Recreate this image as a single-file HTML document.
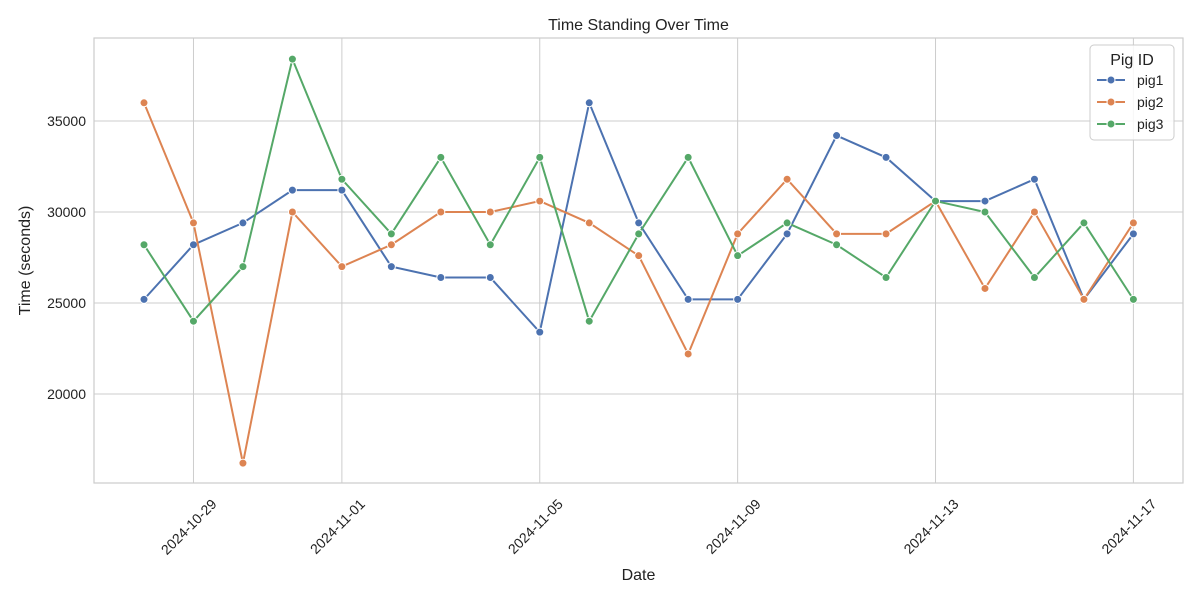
<!DOCTYPE html>
<html><head><meta charset="utf-8"><style>
body{margin:0;background:#fff;font-family:"Liberation Sans","DejaVu Sans",sans-serif;}
</style></head><body>
<svg id="chart" width="1200" height="600" xmlns="http://www.w3.org/2000/svg"></svg>
<script>
const dates = ["2024-10-28","2024-10-29","2024-10-30","2024-10-31","2024-11-01","2024-11-02","2024-11-03","2024-11-04","2024-11-05","2024-11-06","2024-11-07","2024-11-08","2024-11-09","2024-11-10","2024-11-11","2024-11-12","2024-11-13","2024-11-14","2024-11-15","2024-11-16","2024-11-17"];
const pig1 = [25200,28200,29400,31200,31200,27000,26400,26400,23400,36000,29400,25200,25200,28800,34200,33000,30600,30600,31800,25200,28800];
const pig2 = [36000,29400,16200,30000,27000,28200,30000,30000,30600,29400,27600,22200,28800,31800,28800,28800,30600,25800,30000,25200,29400];
const pig3 = [28200,24000,27000,38400,31800,28800,33000,28200,33000,24000,28800,33000,27600,29400,28200,26400,30600,30000,26400,29400,25200];
const yTicks = [20000,25000,30000,35000];
const xTickLabels = ["2024-10-29","2024-11-01","2024-11-05","2024-11-09","2024-11-13","2024-11-17"];
const seriesNames = ["pig1","pig2","pig3"];
const colors = ["#4c72b0","#dd8452","#55a868"];

const NS="http://www.w3.org/2000/svg";
const svg=document.getElementById('chart');
const L=94,R=1183,T=38,B=483;
const x0=144,pxDay=49.47;
const t0=Date.parse(dates[0]);
function xs(d){return x0+(Date.parse(d)-t0)/86400000*pxDay;}
function ys(v){return 212-(v-30000)*0.0182;}
function mk(tag,attrs,parent){const e=document.createElementNS(NS,tag);for(const k in attrs)e.setAttribute(k,attrs[k]);(parent||svg).appendChild(e);return e;}

const grid=mk('g',{});


yTicks.forEach(v=>{
  const l=mk('line',{x1:L,x2:R,y1:ys(v),y2:ys(v),stroke:'#cccccc','stroke-width':1},grid);
  
  
  const t=mk('text',{x:L-8,y:ys(v)+5,'text-anchor':'end','font-size':14,fill:'#222'});
  t.textContent=v;
  
  
});
xTickLabels.forEach(d=>{
  const x=xs(d);
  const l=mk('line',{x1:x,x2:x,y1:T,y2:B,stroke:'#cccccc','stroke-width':1},grid);
  
  
  const ax=x+24, ay=B+22;
  const t=mk('text',{x:ax,y:ay,'text-anchor':'end','font-size':14,fill:'#222',transform:`rotate(-45 ${ax} ${ay})`});
  t.textContent=d;
  
  
});
const frame=mk('rect',{x:L,y:T,width:R-L,height:B-T,fill:'none',stroke:'#cccccc','stroke-width':1.2});



[pig1,pig2,pig3].forEach((vals,i)=>{
  const g=mk('g',{});
  
  
  const pts=vals.map((v,j)=>xs(dates[j])+','+ys(v)).join(' ');
  const pl=mk('polyline',{points:pts,fill:'none',stroke:colors[i],'stroke-width':2},g);
  
  
  vals.forEach((v,j)=>{
    const c=mk('circle',{cx:xs(dates[j]),cy:ys(v),r:4,fill:colors[i],stroke:'#fff','stroke-width':1},g);
    
    
  });
});

const title=mk('text',{x:(L+R)/2,y:30,'text-anchor':'middle','font-size':16,fill:'#222'});
title.textContent='Time Standing Over Time';


const xt=mk('text',{x:(L+R)/2,y:580,'text-anchor':'middle','font-size':16,fill:'#222'});
xt.textContent='Date';


const yt=mk('text',{x:30,y:(T+B)/2,'text-anchor':'middle','font-size':16,fill:'#222',transform:`rotate(-90 30 ${(T+B)/2})`});
yt.textContent='Time (seconds)';



const lg=mk('g',{});


mk('rect',{x:1090,y:45,width:84,height:95,rx:4,fill:'#fff','fill-opacity':0.85,stroke:'#cccccc'},lg);
const lt=mk('text',{x:1132,y:65,'text-anchor':'middle','font-size':16,fill:'#222'},lg);
lt.textContent='Pig ID';


seriesNames.forEach((n,i)=>{
  const y=80+i*22;
  const e=mk('g',{},lg);
  
  
  mk('line',{x1:1097,x2:1125,y1:y,y2:y,stroke:colors[i],'stroke-width':2},e);
  mk('circle',{cx:1111,cy:y,r:4,fill:colors[i],stroke:'#fff','stroke-width':1},e);
  const t=mk('text',{x:1137,y:y+5,'font-size':14,fill:'#222'},e);
  t.textContent=n;
});
</script>
</body></html>
